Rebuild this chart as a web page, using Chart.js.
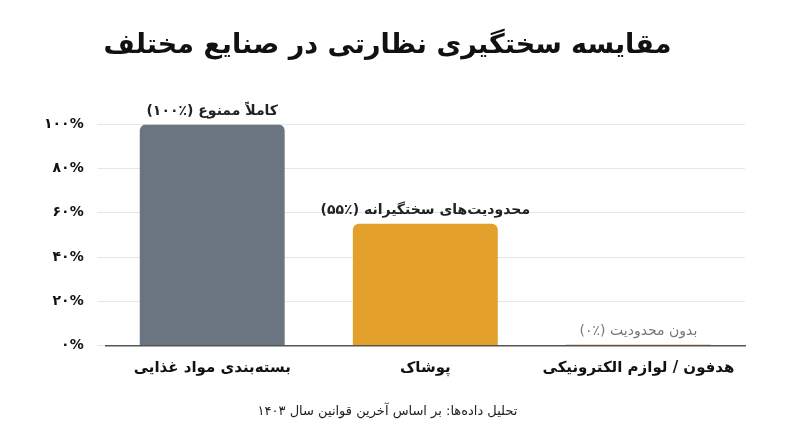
<!DOCTYPE html>
<html><head><meta charset="utf-8">
<script src="https://cdn.jsdelivr.net/npm/chart.js@4"></script>
<style>html,body{margin:0;background:#fff}#w{width:800px;height:447px}</style>
</head><body><div id="w"><canvas id="c"></canvas></div>
<script>
const categories = ["بسته‌بندی مواد غذایی", "پوشاک", "هدفون / لوازم الکترونیکی"];
const values = [100, 55, 0.6];
const barLabels = ["کاملاً ممنوع (٪۱۰۰)", "محدودیت‌های سختگیرانه (٪۵۵)", "بدون محدودیت (٪۰)"];
const tickLabels = {0: "۰%", 20: "۲۰%", 40: "۴۰%", 60: "۶۰%", 80: "۸۰%", 100: "۱۰۰%"};
const colors = ["#6b7582", "#e3a12c", "#efd9bd"];
const labelColors = ["#222", "#222", "#777"];
const FONT = "DejaVu Sans";

const topLabels = {
    id: "topLabels",
    afterDatasetsDraw(chart) {
        const ctx = chart.ctx;
        chart.getDatasetMeta(0).data.forEach((bar, i) => {
            ctx.save();
            ctx.font = (i === 2 ? "" : "bold ") + "14px '" + FONT + "'";
            ctx.fillStyle = labelColors[i];
            ctx.textAlign = "center";
            ctx.textBaseline = "bottom";
            ctx.fillText(barLabels[i], bar.x, bar.y - 6);
            ctx.restore();
        });
    }
};

new Chart(document.getElementById("c"), {
    type: "bar",
    data: {
        labels: categories,
        datasets: [{ data: values, backgroundColor: colors, borderRadius: 6, borderSkipped: "bottom", barPercentage: 0.68, categoryPercentage: 1 }]
    },
    options: {
        responsive: true,
        maintainAspectRatio: false,
        animation: false,
        layout: { padding: { left: 30, right: 55, top: 0, bottom: 0 } },
        scales: {
            x: {
                grid: { display: false },
                border: { color: "#555", width: 1.5 },
                ticks: { color: "#111", padding: 6, font: { family: FONT, size: 15, weight: "bold" } }
            },
            y: {
                min: 0, max: 100,
                border: { display: false },
                grid: { color: "#e6e6e6" },
                ticks: { stepSize: 20, padding: 14, color: "#111", font: { family: FONT, size: 14, weight: "bold" }, callback: v => tickLabels[v] }
            }
        },
        plugins: {
            legend: { display: false },
            tooltip: { enabled: false },
            title: { display: true, text: "مقایسه سختگیری نظارتی در صنایع مختلف", color: "#111", font: { family: FONT, size: 27, weight: "bold" }, padding: { top: 30, bottom: 62 } },
            subtitle: { display: true, position: "bottom", text: "تحلیل داده‌ها: بر اساس آخرین قوانین سال ۱۴۰۳", color: "#222", font: { family: FONT, size: 13 }, padding: { top: 20, bottom: 28 } }
        }
    },
    plugins: [topLabels]
});
</script></body></html>
